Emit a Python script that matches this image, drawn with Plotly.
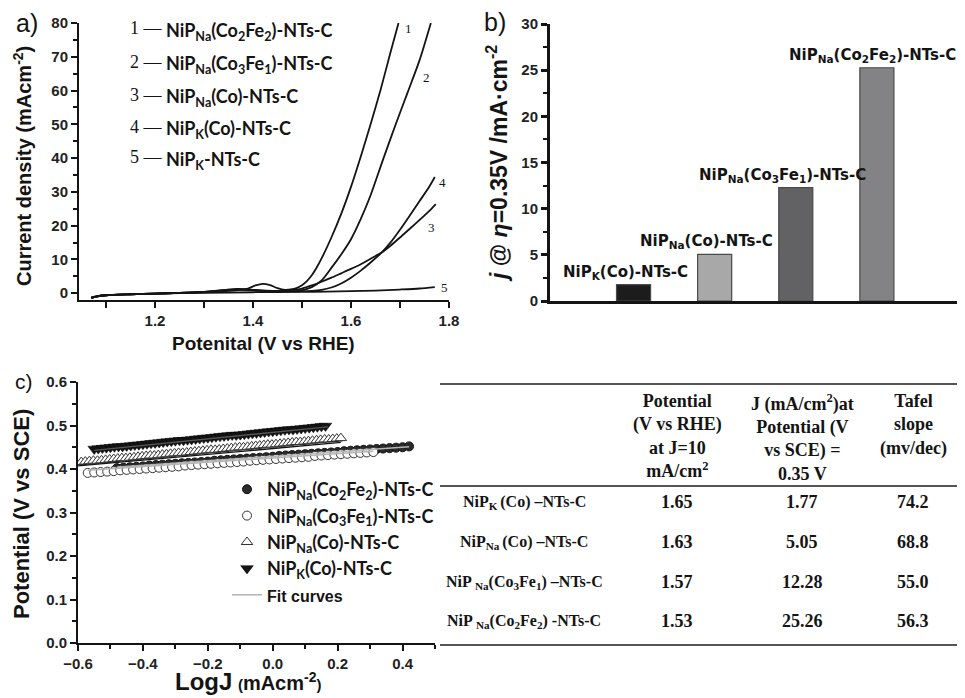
import plotly.graph_objects as go

W, H = 965, 698

# ---------------- Panel a: LSV curves ----------------
lsv1_x = [1.07, 1.08, 1.10, 1.15, 1.20, 1.25, 1.30, 1.34, 1.37, 1.39, 1.405, 1.42, 1.435, 1.45, 1.465,
          1.48, 1.49, 1.50, 1.51, 1.52, 1.53, 1.54, 1.56, 1.58, 1.60, 1.62, 1.64, 1.66, 1.68, 1.697]
lsv1_y = [-1.4, -1.0, -0.6, -0.3, -0.1, 0.1, 0.3, 0.6, 0.9, 1.4, 2.3, 2.8, 2.4, 1.5, 1.0,
          1.2, 1.6, 2.4, 3.6, 5.3, 7.6, 10.3, 16.5, 23.5, 31.5, 40.5, 50.0, 60.0, 71.0, 80.0]

lsv2_x = [1.07, 1.08, 1.10, 1.15, 1.20, 1.25, 1.30, 1.34, 1.37, 1.40, 1.44, 1.48, 1.50, 1.52, 1.54,
          1.56, 1.58, 1.60, 1.62, 1.64, 1.665, 1.69, 1.716, 1.74, 1.763]
lsv2_y = [-1.4, -1.0, -0.6, -0.3, -0.1, 0.1, 0.4, 0.9, 1.2, 0.9, 0.6, 0.7, 0.9, 1.8, 3.8,
          7.5, 11.5, 16.0, 22.0, 29.0, 39.4, 49.5, 59.6, 69.0, 80.0]

lsv3_x = [1.07, 1.08, 1.10, 1.15, 1.20, 1.25, 1.30, 1.34, 1.37, 1.40, 1.44, 1.48, 1.50, 1.52, 1.54,
          1.56, 1.58, 1.60, 1.62, 1.64, 1.663, 1.68, 1.70, 1.72, 1.74, 1.76, 1.773]
lsv3_y = [-1.4, -1.0, -0.6, -0.3, -0.1, 0.1, 0.4, 0.9, 1.3, 1.0, 0.7, 0.9, 1.4, 2.3, 3.4,
          4.6, 5.9, 7.2, 8.6, 10.2, 12.1, 14.0, 16.5, 19.1, 21.7, 24.4, 26.4]

lsv4_x = [1.07, 1.08, 1.10, 1.15, 1.20, 1.25, 1.30, 1.34, 1.37, 1.40, 1.44, 1.48, 1.50, 1.52, 1.54,
          1.56, 1.58, 1.60, 1.62, 1.64, 1.663, 1.68, 1.70, 1.72, 1.74, 1.76, 1.771]
lsv4_y = [-1.4, -1.0, -0.6, -0.3, -0.1, 0.1, 0.4, 0.8, 1.1, 0.9, 0.6, 0.6, 0.6, 0.7, 1.0,
          1.7, 2.9, 4.6, 6.7, 9.1, 12.1, 14.9, 18.8, 23.0, 27.3, 31.6, 34.4]

lsv5_x = [1.07, 1.08, 1.10, 1.15, 1.20, 1.30, 1.40, 1.50, 1.55, 1.60, 1.65, 1.70, 1.74, 1.771]
lsv5_y = [-1.2, -0.9, -0.6, -0.3, -0.1, 0.1, 0.3, 0.4, 0.5, 0.6, 0.8, 1.1, 1.4, 1.8]

lsv_numbers = ["1", "2", "3", "4", "5"]
lsv_label_x = [1.718, 1.755, 1.765, 1.786, 1.790]
lsv_label_y = [78.5, 64.0, 19.6, 32.9, 1.8]
lsv_legend = [
    "NiP<sub>Na</sub>(Co<sub>2</sub>Fe<sub>2</sub>)-NTs-C",
    "NiP<sub>Na</sub>(Co<sub>3</sub>Fe<sub>1</sub>)-NTs-C",
    "NiP<sub>Na</sub>(Co)-NTs-C",
    "NiP<sub>K</sub>(Co)-NTs-C",
    "NiP<sub>K</sub>-NTs-C",
]

# ---------------- Panel b / table data ----------------
sample_bar_labels = [
    "NiP<sub>K</sub>(Co)-NTs-C",
    "NiP<sub>Na</sub>(Co)-NTs-C",
    "NiP<sub>Na</sub>(Co<sub>3</sub>Fe<sub>1</sub>)-NTs-C",
    "NiP<sub>Na</sub>(Co<sub>2</sub>Fe<sub>2</sub>)-NTs-C",
]
sample_keys = ["K(Co)", "Na(Co)", "Na(Co3Fe1)", "Na(Co2Fe2)"]
j_at_035 = [1.77, 5.05, 12.28, 25.26]
potential_at_10 = [1.65, 1.63, 1.57, 1.53]
tafel_slope = [74.2, 68.8, 55.0, 56.3]
table_row_labels = [
    "NiP<sub>K </sub>(Co) \u2013NTs-C",
    "NiP<sub>Na </sub>(Co) \u2013NTs-C",
    "NiP <sub>Na</sub>(Co<sub>3</sub>Fe<sub>1</sub>) \u2013NTs-C",
    "NiP <sub>Na</sub>(Co<sub>2</sub>Fe<sub>2</sub>) -NTs-C",
]
table_headers = [
    "Potential<br>(V vs RHE)<br>at J=10<br>mA/cm<sup>2</sup>",
    "J (mA/cm<sup>2</sup>)at<br>Potential (V<br>vs SCE) =<br>0.35 V",
    "Tafel<br>slope<br>(mv/dec)",
]

# ---------------- Panel c: Tafel data ----------------
tafel_Co2Fe2_x = [-0.48, -0.46, -0.44, -0.42, -0.40, -0.38, -0.36, -0.34, -0.32, -0.30, -0.28, -0.26,
                  -0.24, -0.22, -0.20, -0.18, -0.16, -0.14, -0.12, -0.10, -0.08, -0.06, -0.04, -0.02,
                  0.0, 0.02, 0.04, 0.06, 0.08, 0.10, 0.12, 0.14, 0.16, 0.18, 0.20, 0.22, 0.24, 0.26,
                  0.28, 0.30, 0.32, 0.34, 0.36, 0.38, 0.40, 0.42]
tafel_Co2Fe2_y = [0.402, 0.403, 0.404, 0.405, 0.406, 0.408, 0.409, 0.410, 0.411, 0.412, 0.413, 0.414,
                  0.415, 0.416, 0.417, 0.419, 0.420, 0.421, 0.422, 0.423, 0.424, 0.425, 0.426, 0.427,
                  0.428, 0.430, 0.431, 0.432, 0.433, 0.434, 0.435, 0.436, 0.437, 0.438, 0.439, 0.441,
                  0.442, 0.443, 0.444, 0.445, 0.446, 0.447, 0.448, 0.449, 0.450, 0.452]

tafel_Co3Fe1_x = [-0.57, -0.55, -0.53, -0.51, -0.49, -0.47, -0.45, -0.43, -0.41, -0.39, -0.37, -0.35,
                  -0.33, -0.31, -0.29, -0.27, -0.25, -0.23, -0.21, -0.19, -0.17, -0.15, -0.13, -0.11,
                  -0.09, -0.07, -0.05, -0.03, -0.01, 0.01, 0.03, 0.05, 0.07, 0.09, 0.11, 0.13, 0.15,
                  0.17, 0.19, 0.21, 0.23, 0.25, 0.27, 0.29, 0.31]
tafel_Co3Fe1_y = [0.391, 0.392, 0.393, 0.394, 0.395, 0.397, 0.398, 0.399, 0.400, 0.401, 0.402, 0.403,
                  0.404, 0.405, 0.406, 0.408, 0.409, 0.410, 0.411, 0.412, 0.413, 0.414, 0.415, 0.416,
                  0.417, 0.419, 0.420, 0.421, 0.422, 0.423, 0.424, 0.425, 0.426, 0.427, 0.428, 0.430,
                  0.431, 0.432, 0.433, 0.434, 0.435, 0.436, 0.437, 0.438, 0.439]

tafel_NaCo_x = [-0.59, -0.5775, -0.565, -0.5525, -0.54, -0.5275, -0.515, -0.5025, -0.49, -0.4775,
                -0.465, -0.4525, -0.44, -0.4275, -0.415, -0.4025, -0.39, -0.3775, -0.365, -0.3525,
                -0.34, -0.3275, -0.315, -0.3025, -0.29, -0.2775, -0.265, -0.2525, -0.24, -0.2275,
                -0.215, -0.2025, -0.19, -0.1775, -0.165, -0.1525, -0.14, -0.1275, -0.115, -0.1025,
                -0.09, -0.0775, -0.065, -0.0525, -0.04, -0.0275, -0.015, -0.0025, 0.01, 0.0225,
                0.035, 0.0475, 0.06, 0.0725, 0.085, 0.0975, 0.11, 0.1225, 0.135, 0.1475,
                0.16, 0.1725, 0.185, 0.1975, 0.21]
tafel_NaCo_y = [0.416, 0.417, 0.418, 0.419, 0.419, 0.420, 0.421, 0.422, 0.423, 0.424,
                0.425, 0.425, 0.426, 0.427, 0.428, 0.429, 0.430, 0.431, 0.431, 0.432,
                0.433, 0.434, 0.435, 0.436, 0.437, 0.437, 0.438, 0.439, 0.440, 0.441,
                0.442, 0.443, 0.444, 0.444, 0.445, 0.446, 0.447, 0.448, 0.449, 0.450,
                0.450, 0.451, 0.452, 0.453, 0.454, 0.455, 0.456, 0.456, 0.457, 0.458,
                0.459, 0.460, 0.461, 0.462, 0.462, 0.463, 0.464, 0.465, 0.466, 0.467,
                0.468, 0.468, 0.469, 0.470, 0.471]

tafel_KCo_x = [-0.55, -0.5375, -0.525, -0.5125, -0.5, -0.4875, -0.475, -0.4625, -0.45, -0.4375,
               -0.425, -0.4125, -0.4, -0.3875, -0.375, -0.3625, -0.35, -0.3375, -0.325, -0.3125,
               -0.3, -0.2875, -0.275, -0.2625, -0.25, -0.2375, -0.225, -0.2125, -0.2, -0.1875,
               -0.175, -0.1625, -0.15, -0.1375, -0.125, -0.1125, -0.1, -0.0875, -0.075, -0.0625,
               -0.05, -0.0375, -0.025, -0.0125, 0.0, 0.0125, 0.025, 0.0375, 0.05, 0.0625,
               0.075, 0.0875, 0.1, 0.1125, 0.125, 0.1375, 0.15, 0.1625]
tafel_KCo_y = [0.446, 0.447, 0.448, 0.449, 0.450, 0.451, 0.452, 0.452, 0.453, 0.454,
               0.455, 0.456, 0.457, 0.458, 0.459, 0.460, 0.461, 0.462, 0.463, 0.464,
               0.465, 0.466, 0.466, 0.467, 0.468, 0.469, 0.470, 0.471, 0.472, 0.473,
               0.474, 0.475, 0.476, 0.477, 0.478, 0.478, 0.479, 0.480, 0.481, 0.482,
               0.483, 0.484, 0.485, 0.486, 0.487, 0.488, 0.489, 0.490, 0.491, 0.491,
               0.492, 0.493, 0.494, 0.495, 0.496, 0.497, 0.498, 0.499]

fit_KCo_x, fit_KCo_y = [-0.55, 0.17], [0.443, 0.497]
fit_NaCo_x, fit_NaCo_y = [-0.60, 0.21], [0.407, 0.461]
fit_Co3Fe1_x, fit_Co3Fe1_y = [-0.57, 0.31], [0.397, 0.441]
fit_Co2Fe2_x, fit_Co2Fe2_y = [-0.48, 0.42], [0.404, 0.451]

legend_c_names = [
    "NiP<sub>Na</sub>(Co<sub>2</sub>Fe<sub>2</sub>)-NTs-C",
    "NiP<sub>Na</sub>(Co<sub>3</sub>Fe<sub>1</sub>)-NTs-C",
    "NiP<sub>Na</sub>(Co)-NTs-C",
    "NiP<sub>K</sub>(Co)-NTs-C",
    '<span style="font-family:Liberation Sans;font-size:16px">Fit curves</span>',
]

# ---------------- styles ----------------
SANS = "Liberation Sans"
SERIF = "Liberation Serif"
CAL = "Lato"
INK = "#141414"
OFF = 8  # page body margin offset

def px(x):
    return (x - OFF) / W

def py(y):
    return 1 - (y - OFF) / H

fig = go.Figure()

# panel a traces
for xs, ys in [(lsv5_x, lsv5_y), (lsv4_x, lsv4_y), (lsv3_x, lsv3_y), (lsv2_x, lsv2_y), (lsv1_x, lsv1_y)]:
    fig.add_trace(go.Scatter(x=xs, y=ys, mode="lines", line=dict(color=INK, width=1.8, shape="spline", smoothing=0.7),
                             xaxis="x", yaxis="y", showlegend=False, hoverinfo="skip"))

# panel b bars
bar_colors = ["#1c1c1c", "#a8a8a8", "#626264", "#838386"]
fig.add_trace(go.Bar(x=sample_keys, y=j_at_035, width=0.42, marker=dict(color=bar_colors, line=dict(color="#4a4a4a", width=1.2)),
                     xaxis="x2", yaxis="y2", showlegend=False, hoverinfo="skip"))

# panel c traces
fig.add_trace(go.Scatter(x=tafel_Co2Fe2_x, y=tafel_Co2Fe2_y, mode="markers", name=legend_c_names[0], legendrank=1,
                         marker=dict(symbol="circle", size=9, color="#2a2a2a", line=dict(color="#111", width=1)),
                         xaxis="x3", yaxis="y3"))
fig.add_trace(go.Scatter(x=tafel_Co3Fe1_x, y=tafel_Co3Fe1_y, mode="markers", name=legend_c_names[1], legendrank=2,
                         marker=dict(symbol="circle", size=9, color="white", line=dict(color="#333", width=1)),
                         xaxis="x3", yaxis="y3"))
fig.add_trace(go.Scatter(x=fit_Co3Fe1_x, y=fit_Co3Fe1_y, mode="lines", line=dict(color="#b4b4b4", width=1.5),
                         xaxis="x3", yaxis="y3", showlegend=False, hoverinfo="skip"))
fig.add_trace(go.Scatter(x=fit_Co2Fe2_x, y=fit_Co2Fe2_y, mode="lines", name=legend_c_names[4], legendrank=5,
                         line=dict(color="#b4b4b4", width=1.5), xaxis="x3", yaxis="y3"))
fig.add_trace(go.Scatter(x=tafel_NaCo_x, y=tafel_NaCo_y, mode="markers", name=legend_c_names[2], legendrank=3,
                         marker=dict(symbol="triangle-up", size=10, color="white", line=dict(color="#333", width=1)),
                         xaxis="x3", yaxis="y3"))
fig.add_trace(go.Scatter(x=fit_NaCo_x, y=fit_NaCo_y, mode="lines", line=dict(color=INK, width=1.3),
                         xaxis="x3", yaxis="y3", showlegend=False, hoverinfo="skip"))
fig.add_trace(go.Scatter(x=tafel_KCo_x, y=tafel_KCo_y, mode="markers", name=legend_c_names[3], legendrank=4,
                         marker=dict(symbol="triangle-down", size=11, color=INK, line=dict(color="#000", width=0.5)),
                         xaxis="x3", yaxis="y3"))
fig.add_trace(go.Scatter(x=fit_KCo_x, y=fit_KCo_y, mode="lines", line=dict(color="#555", width=1.3),
                         xaxis="x3", yaxis="y3", showlegend=False, hoverinfo="skip"))

tickfont = dict(family=SANS, size=15, color="#222", weight="bold")

def axis_common(lw):
    return dict(showline=True, linecolor=INK, linewidth=lw, ticks="outside", ticklen=6, tickwidth=2,
                tickcolor=INK, showgrid=False, zeroline=False, tickfont=tickfont, mirror=False)

layout = dict(
    width=W, height=H, margin=dict(l=0, r=0, t=0, b=0, autoexpand=False), paper_bgcolor="white", plot_bgcolor="white",
    xaxis=dict(domain=[px(79), px(449)], range=[1.045, 1.8], tickvals=[1.2, 1.4, 1.6, 1.8], ticktext=["1.2", "1.4", "1.6", "1.8"],
               minor=dict(tickvals=[1.1, 1.3, 1.5, 1.7], ticklen=6, tickwidth=1.5, tickcolor=INK), anchor="y",
               **axis_common(2)),
    yaxis=dict(domain=[py(300), py(23)], range=[-2, 80], dtick=10, tick0=0,
               minor=dict(dtick=5, ticklen=4, tickwidth=1.5, tickcolor=INK), anchor="x", **axis_common(2)),
    xaxis2=dict(domain=[px(550), px(958)], range=[-1.03, 4.0], type="category", categoryarray=sample_keys,
                showline=True, linecolor=INK, linewidth=3, ticks="", showticklabels=False, showgrid=False,
                zeroline=False, anchor="y2"),
    yaxis2=dict(domain=[py(301), py(24)], range=[0, 30], dtick=5, tick0=0,
                minor=dict(dtick=2.5, ticklen=4, tickwidth=1.5, tickcolor=INK), anchor="x2",
                **dict(axis_common(3), tickwidth=2.5)),
    xaxis3=dict(domain=[px(78), px(435)], range=[-0.6, 0.5], dtick=0.2, tick0=0, tickformat=".1f",
                minor=dict(dtick=0.1, ticklen=4, tickwidth=1.5, tickcolor=INK), anchor="y3", **axis_common(2)),
    yaxis3=dict(domain=[py(643), py(382)], range=[0, 0.6], dtick=0.1, tick0=0, tickformat=".1f",
                minor=dict(dtick=0.05, ticklen=4, tickwidth=1.5, tickcolor=INK), anchor="x3", **axis_common(2)),
    showlegend=True,
    legend=dict(x=px(227), y=py(471), xanchor="left", yanchor="top", bgcolor="rgba(0,0,0,0)",
                font=dict(family=CAL, size=18, color=INK, weight="bold"), tracegroupgap=0, itemwidth=30,
                traceorder="normal"),
    bargap=0.5,
)
fig.update_layout(**layout)

annotations = []

def ann(text, x, y, size, family=SANS, bold=True, xanchor="center", yanchor="middle", angle=0, color=INK,
        xref="paper", yref="paper", xshift=0, yshift=0):
    annotations.append(dict(text=text, x=x, y=y, xref=xref, yref=yref, showarrow=False, xanchor=xanchor,
                            yanchor=yanchor, textangle=angle, xshift=xshift, yshift=yshift,
                            font=dict(family=family, size=size, color=color, weight="bold" if bold else "normal")))

# panel letters
ann("a)", px(27), py(23), 25, bold=False)
ann("b)", px(495), py(22), 25, bold=False)
ann("c)", px(24), py(381), 21, bold=False)

# panel a titles
ann("Current density (mAcm<sup>-2</sup>)", px(22), py(166), 20, angle=-90)
ann("Potenital (V vs RHE)", px(263), py(343), 19)
# panel a legend
legend_rows_y = [28, 62, 95, 127, 157]
for num, label, ry in zip(lsv_numbers, lsv_legend, legend_rows_y):
    ann(num + " \u2014", px(128), py(ry), 18, family=SERIF, bold=False, xanchor="left")
    ann(label, px(164), py(ry + 3), 18, family=CAL, xanchor="left")
# curve numbers
for num, lx, ly in zip(lsv_numbers, lsv_label_x, lsv_label_y):
    ann(num, lx, ly, 13, family=SERIF, bold=False, xref="x", yref="y")

# panel b titles and bar labels
ann("<i>j</i> @ <i>\u03b7</i>=0.35V /mA\u00b7cm<sup>-2</sup>", px(497), py(164), 23, angle=-90)
bar_label_xshift = [-8, -8, -13, -4]
for key, lab, val, xs in zip(sample_keys, sample_bar_labels, j_at_035, bar_label_xshift):
    ann(lab, key, val, 15, family="DejaVu Sans", xref="x2", yref="y2", yanchor="bottom", xshift=xs, yshift=1)

# panel c titles
ann("Potential (V vs SCE)", px(21), py(514), 22, angle=-90)
ann('<span style="font-size:24px">LogJ</span> <span style="font-size:15px">(</span>mAcm<sup>-2</sup><span style="font-size:15px">)</span>',
    px(248), py(681), 20)

# table
col_x = [524, 677, 802, 913]
for hx, htxt in zip(col_x[1:], table_headers):
    ann(htxt, px(hx), py(389), 18, family=SERIF, yanchor="top")
row_y = [502, 542, 582, 621]
for ry, lab, p10, jv, ts in zip(row_y, table_row_labels, potential_at_10, j_at_035, tafel_slope):
    ann(lab, px(col_x[0]), py(ry), 16, family=SERIF)
    ann(f"{p10:.2f}", px(col_x[1]), py(ry), 18, family=SERIF)
    ann(f"{jv:.2f}", px(col_x[2]), py(ry), 18, family=SERIF)
    ann(f"{ts:.1f}", px(col_x[3]), py(ry), 18, family=SERIF)

shapes = []
for ly, lw in [(384, 2), (486, 2), (645, 2)]:
    shapes.append(dict(type="line", xref="paper", yref="paper", x0=px(440), x1=px(958), y0=py(ly), y1=py(ly),
                       line=dict(color="#555", width=lw)))

fig.update_layout(annotations=annotations, shapes=shapes)
fig.write_html("out.html")
